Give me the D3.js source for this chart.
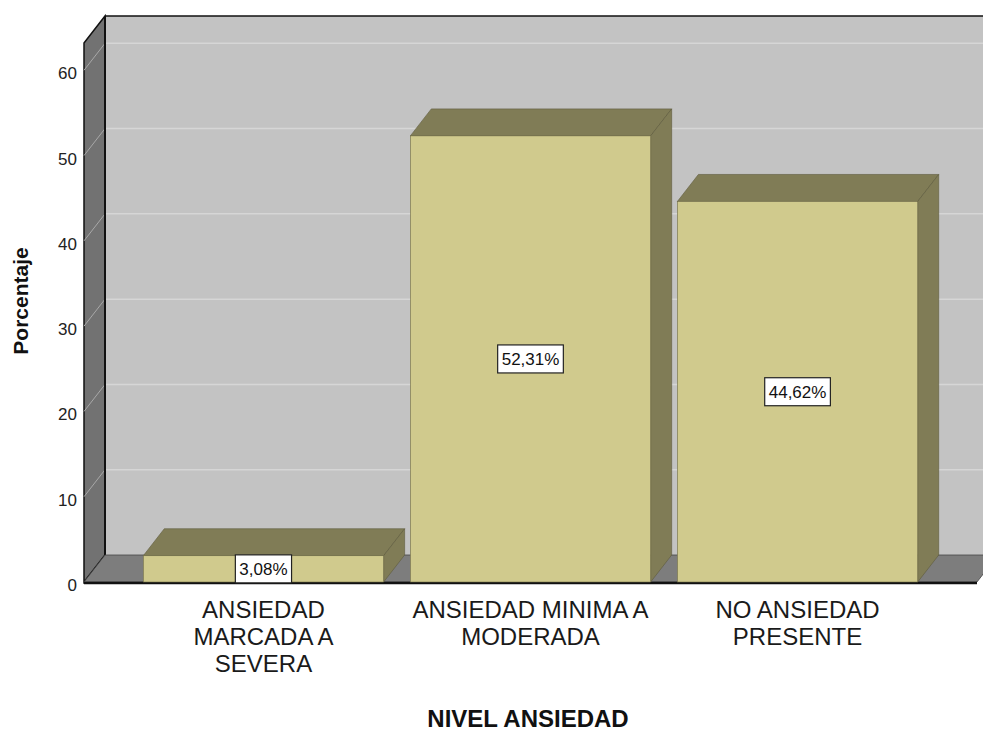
<!DOCTYPE html>
<html>
<head>
<meta charset="utf-8">
<script src="https://cdn.jsdelivr.net/npm/d3@7"></script>
<style>
  body { margin: 0; background: #fff; }
  text { font-family: Arial, "Liberation Sans", sans-serif; }
</style>
</head>
<body>
<svg id="chart" width="983" height="731"></svg>
<script>
// values
const categories = [
  ["ANSIEDAD", "MARCADA A", "SEVERA"],
  ["ANSIEDAD MINIMA A", "MODERADA"],
  ["NO ANSIEDAD", "PRESENTE"]
]
const percentages = [3.08, 52.31, 44.62]
const yTicks = [0, 10, 20, 30, 40, 50, 60]
const pctLabels = ["3,08%", "52,31%", "44,62%"]

const svg = d3.select('#chart')
const depthX = 21, depthY = -27
const plotLeft = 84, plotRight = 977, plotBottom = 582, plotTop = 43

const x = d3.scaleBand()
.domain(d3.range(categories.length))
.range([plotLeft, plotRight])
.paddingInner(0.1)
.paddingOuter(0.222)

const y = d3.scaleLinear()
.domain([0, 63.2])
.range([plotBottom, plotTop])

// back wall
svg.append('rect')
.attr('x', plotLeft + depthX)
.attr('y', plotTop + depthY)
.attr('width', 983 - plotLeft)
.attr('height', plotBottom - plotTop)
.attr('fill', '#c3c3c3')

// left wall
svg.append('polygon')
.attr('points', [[plotLeft, plotTop], [plotLeft + depthX, plotTop + depthY], [plotLeft + depthX, plotBottom + depthY], [plotLeft, plotBottom]].join(' '))
.attr('fill', '#727272')
.attr('stroke', '#111')
.attr('stroke-width', 1.5)

// grid lines on both walls
const grid = svg.append('g').attr('class', 'grid')
yTicks.filter(d => d > 0).forEach(d => {
  grid.append('line')
  .attr('x1', plotLeft).attr('y1', y(d))
  .attr('x2', plotLeft + depthX).attr('y2', y(d) + depthY)
  .attr('stroke', '#a8a8a8').attr('stroke-width', 1)
  grid.append('line')
  .attr('x1', plotLeft + depthX + 1).attr('y1', y(d) + depthY)
  .attr('x2', 983).attr('y2', y(d) + depthY)
  .attr('stroke', '#d6d6d6').attr('stroke-width', 1.5)
})

// back wall edges
svg.append('line')
.attr('x1', plotLeft + depthX).attr('y1', plotTop + depthY)
.attr('x2', 983).attr('y2', plotTop + depthY)
.attr('stroke', '#111').attr('stroke-width', 1.5)
svg.append('line')
.attr('x1', plotLeft + depthX).attr('y1', plotTop + depthY)
.attr('x2', plotLeft + depthX).attr('y2', plotBottom + depthY)
.attr('stroke', '#111').attr('stroke-width', 2)

// floor
svg.append('polygon')
.attr('points', [[plotLeft, plotBottom], [plotLeft + depthX, plotBottom + depthY], [plotRight + depthX, plotBottom + depthY], [plotRight, plotBottom]].join(' '))
.attr('fill', '#7d7d7d')
.attr('stroke', '#444')
.attr('stroke-width', 0.8)
svg.append('line')
.attr('x1', plotLeft).attr('y1', plotBottom + 1)
.attr('x2', plotRight).attr('y2', plotBottom + 1)
.attr('stroke', '#111').attr('stroke-width', 2.5)

// tick labels
svg.append('g')
.selectAll('text')
.data(yTicks)
.enter()
.append('text')
.attr('x', 77)
.attr('y', d => y(d) + 9)
.attr('text-anchor', 'end')
.attr('font-size', 17)
.attr('fill', '#222')
.text(d => d)

// bars
const bars = svg.append('g')
.selectAll('g')
.data(percentages)
.enter()
.append('g')

const bw = x.bandwidth()
bars.append('polygon') // top
.attr('points', (d, i) => {
  const x0 = x(i), x1 = x(i) + bw, yt = y(d)
  return [[x0, yt], [x0 + depthX, yt + depthY], [x1 + depthX, yt + depthY], [x1, yt]].join(' ')
})
.attr('fill', '#807c56')
.attr('stroke', '#5e5b3c')
.attr('stroke-width', 0.6)

bars.append('polygon') // side
.attr('points', (d, i) => {
  const x1 = x(i) + bw, yt = y(d)
  return [[x1, yt], [x1 + depthX, yt + depthY], [x1 + depthX, y(0) + depthY], [x1, y(0)]].join(' ')
})
.attr('fill', '#807c56')
.attr('stroke', '#5e5b3c')
.attr('stroke-width', 0.6)

bars.append('rect') // front
.attr('x', (d, i) => x(i))
.attr('y', d => y(d))
.attr('width', bw)
.attr('height', d => y(0) - y(d))
.attr('fill', '#d0ca8d')
.attr('stroke', '#6f6b47')
.attr('stroke-width', 0.6)

// value labels
const labels = bars.append('g')
.attr('transform', (d, i) => `translate(${x(i) + bw / 2},${(y(d) + y(0)) / 2})`)
labels.append('text')
.attr('text-anchor', 'middle')
.attr('y', 6)
.attr('font-size', 17)
.attr('fill', '#111')
.text((d, i) => pctLabels[i])
labels.each(function() {
  const g = d3.select(this)
  const w = g.select('text').node().getComputedTextLength() + 8
  g.insert('rect', 'text')
  .attr('x', -w / 2)
  .attr('y', -14)
  .attr('width', w)
  .attr('height', 28)
  .attr('fill', '#fff')
  .attr('stroke', '#222')
  .attr('stroke-width', 1.2)
})

// category labels
svg.append('g')
.selectAll('text')
.data(categories)
.enter()
.append('text')
.attr('text-anchor', 'middle')
.attr('font-size', 24)
.attr('fill', '#1a1a1a')
.attr('x', (d, i) => x(i) + bw / 2)
.attr('y', 618)
.selectAll('tspan')
.data(d => d)
.enter()
.append('tspan')
.attr('x', function() { return d3.select(this.parentNode).attr('x') })
.attr('dy', (d, j) => j === 0 ? 0 : 27)
.text(d => d)

// axis titles
svg.append('text')
.attr('x', 528)
.attr('y', 727)
.attr('text-anchor', 'middle')
.attr('font-size', 24)
.attr('font-weight', 'bold')
.attr('fill', '#111')
.text('NIVEL ANSIEDAD')

svg.append('text')
.attr('transform', 'translate(28,301) rotate(-90)')
.attr('text-anchor', 'middle')
.attr('font-size', 21)
.attr('font-weight', 'bold')
.attr('fill', '#111')
.text('Porcentaje')
</script>
</body>
</html>
